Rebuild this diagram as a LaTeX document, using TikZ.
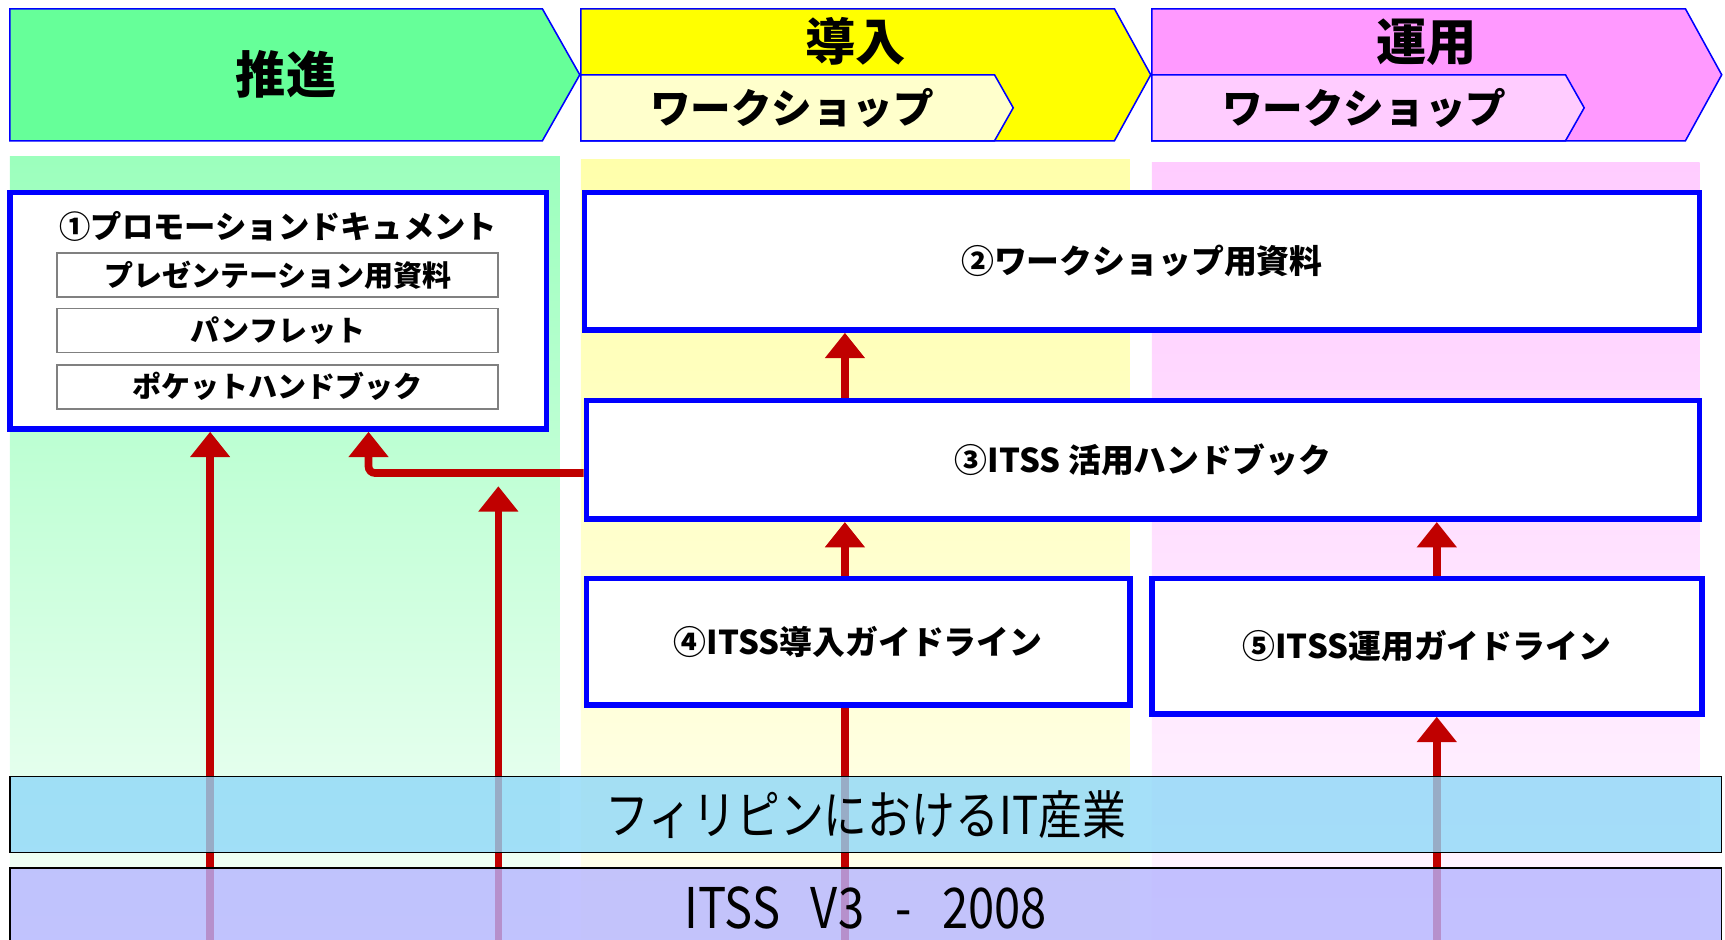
\documentclass[tikz,border=0pt]{standalone}
\usepackage{fontspec}
\setmainfont{Noto Sans CJK JP}
\newfontfamily\bandfont[FakeStretch=0.84]{Noto Sans CJK JP}
\usetikzlibrary{arrows.meta, positioning, calc}

\definecolor{promo}{HTML}{66FF99}
\definecolor{intro}{HTML}{FFFF00}
\definecolor{introlight}{HTML}{FFFFCC}
\definecolor{oper}{HTML}{FF99FF}
\definecolor{operlight}{HTML}{FFCCFF}
\definecolor{arrowred}{HTML}{C00000}
\definecolor{industry}{HTML}{8ED8F8}
\definecolor{version}{HTML}{B4B4FF}

\begin{document}
\begin{tikzpicture}[x=0.02cm, y=-0.02cm,
        phase/.style={draw=blue, line width=0.8pt},
        phasetext/.style={font=\bfseries\fontsize{26}{29}\selectfont},
        wstext/.style={font=\bfseries\fontsize{21}{24}\selectfont},
        bluebox/.style={draw=blue, line width=0.1cm, fill=white, font=\bfseries\fontsize{17}{20}\selectfont},
        subbox/.style={draw=gray, line width=0.9pt, fill=white, minimum width=8.02cm, minimum height=0.8cm, font=\bfseries\fontsize{15}{17}\selectfont},
        band/.style={draw=black, line width=0.8pt, fill opacity=0.8, text opacity=1, minimum width=31.12cm},
        redarrow/.style={draw=arrowred, line width=0.14cm, -{Triangle[width=0.7cm,length=0.46cm]}},
        redline/.style={draw=arrowred, line width=0.14cm}
    ]
        \useasboundingbox (0,0) rectangle (1568,854);
        \clip (0,0) rectangle (1568,854);

        % Hintergrund der Spalten
        \shade[top color=promo!65, bottom color=promo!5] (9,142) rectangle (509,854);
        \shade[top color=intro!33, bottom color=intro!6] (528,145) rectangle (1027,854);
        \shade[top color=oper!50, bottom color=oper!8] (1047,148) rectangle (1545,854);

        % Phasen
        \draw[phase, fill=promo] (9,8) -- (493,8) -- (527,68) -- (493,128) -- (9,128) -- cycle;
        \draw[phase, fill=intro] (528,8) -- (1013,8) -- (1046,68) -- (1013,128) -- (528,128) -- cycle;
        \draw[phase, fill=introlight] (528,68) -- (904,68) -- (921,98) -- (904,128) -- (528,128) -- cycle;
        \draw[phase, fill=oper] (1047,8) -- (1532,8) -- (1565,68) -- (1532,128) -- (1047,128) -- cycle;
        \draw[phase, fill=operlight] (1047,68) -- (1423,68) -- (1440,98) -- (1423,128) -- (1047,128) -- cycle;

        \node[phasetext] (promote) at (260,68) {推進};
        \node[phasetext] (introduce) at (778,38) {導入};
        \node[wstext] (ws1) at (720,98) {ワークショップ};
        \node[phasetext] (operate) at (1297,38) {運用};
        \node[wstext] (ws2) at (1240,98) {ワークショップ};

        % Dokumente
        \node[bluebox, minimum width=9.76cm, minimum height=4.3cm] (promodoc) at (253,282.5) {};
        \node[font=\bfseries\fontsize{16.2}{19}\selectfont] (promotitle) at (253,206) {①プロモーションドキュメント};
        \node[subbox] (slides) at (252.5,250) {プレゼンテーション用資料};
        \node[subbox] (pamphlet) at (252.5,300.5) {パンフレット};
        \node[subbox] (pocket) at (252.5,351.5) {ポケットハンドブック};

        \node[bluebox, minimum width=20.28cm, minimum height=2.5cm] (wsdoc) at (1038,237.5) {②ワークショップ用資料};
        \node[bluebox, minimum width=20.24cm, minimum height=2.16cm] (handbook) at (1039,418) {③ITSS 活用ハンドブック};
        \node[bluebox, minimum width=9.88cm, minimum height=2.3cm] (introguide) at (780,583.5) {④ITSS導入ガイドライン};
        \node[bluebox, minimum width=10cm, minimum height=2.46cm] (operguide) at (1297,587.5) {⑤ITSS運用ガイドライン};

        % Pfeile
        \coordinate (a1) at (191,870);
        \coordinate (a2) at (453,870);
        \coordinate (a2top) at (453,442);
        \coordinate (a3) at (768,870);
        \coordinate (a4) at (1306,870);
        \coordinate (elbow) at (335,430);

        \draw[redarrow] (a1) -- (a1 |- promodoc.south);
        \draw[redarrow] (a2) -- (a2top);
        \draw[redarrow, rounded corners=0.12cm] (handbook.west |- elbow) -- (elbow) -- (elbow |- promodoc.south);
        \draw[redarrow] (handbook.north -| a3) -- (wsdoc.south -| a3);
        \draw[redarrow] (introguide.north -| a3) -- (handbook.south -| a3);
        \draw[redline] (a3) -- (introguide.south -| a3);
        \draw[redarrow] (a4) -- (a4 |- operguide.south);
        \draw[redarrow] (operguide.north -| a4) -- (handbook.south -| a4);

        % Grundlage
        \node[band, fill=industry, minimum height=1.38cm, font=\bandfont\fontsize{27}{30}\selectfont] (itindustry) at (787,740.5) {フィリピンにおけるIT産業};
        \node[band, fill=version, minimum height=1.44cm, font=\bandfont\fontsize{29}{32}\selectfont] (itss) at (787,825) {ITSS\hspace{0.55em}V3\hspace{0.55em}-\hspace{0.55em}2008};
    \end{tikzpicture}
\end{document}
